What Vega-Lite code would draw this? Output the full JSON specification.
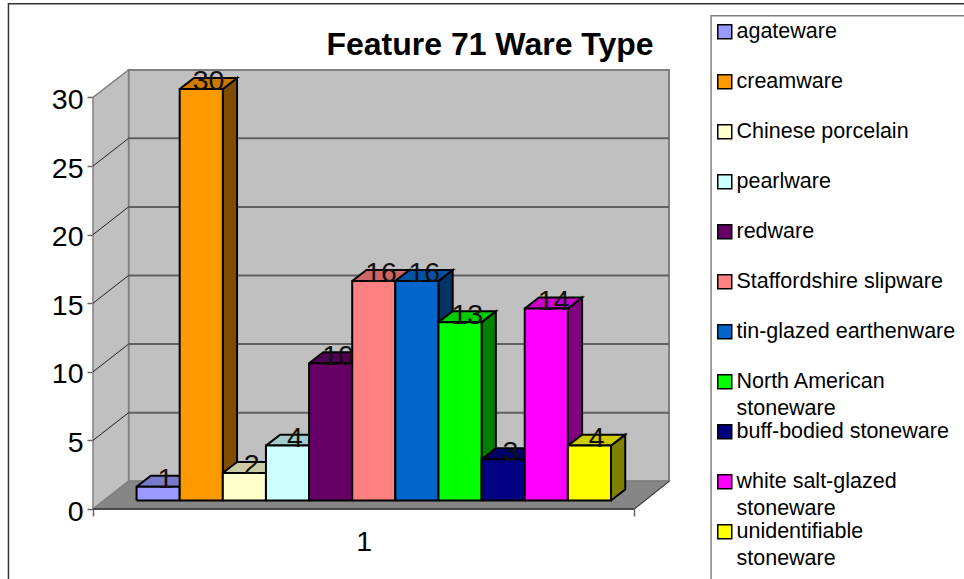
{
"$schema":"https://vega.github.io/schema/vega-lite/v6.json",
"width":576,"height":439,
"autosize":{"type":"none"},
"padding":{"left":93,"top":70,"right":295,"bottom":70},
"background":"white",
"title":{"text":"Feature 71 Ware Type","font":"Liberation Sans","fontSize":32,"fontWeight":"bold","color":"black","anchor":"middle","dx":109,"offset":-59},
"config":{"view":{"stroke":null},"font":"Liberation Sans"},
"datasets":{
"bars":[
{"ware":"agateware","value":1},
{"ware":"creamware","value":30},
{"ware":"Chinese porcelain","value":2},
{"ware":"pearlware","value":4},
{"ware":"redware","value":10},
{"ware":"Staffordshire slipware","value":16},
{"ware":"tin-glazed earthenware","value":16},
{"ware":"North American stoneware","value":13},
{"ware":"buff-bodied stoneware","value":3},
{"ware":"white salt-glazed stoneware","value":14},
{"ware":"unidentifiable stoneware","value":4}
],
"ticks":[{"tick":5},{"tick":10},{"tick":15},{"tick":20},{"tick":25}]
},
"layer":[
{"data":{"values":[{}]},
 "mark":{"type":"rect","filled":false,"stroke":"#333333","strokeWidth":1.5},
 "encoding":{
  "x":{"datum":-2.97,"type":"quantitative","scale":{"domain":[-1.01,12.345],"nice":false,"zero":false},"title":null,
   "axis":{"values":[-1.01,5.265,11.54],"title":null,"grid":false,"domain":false,"tickColor":"#666666","tickWidth":1.5,"tickSize":7,"labelFontSize":28.5,"labelColor":"black","labelFont":"Liberation Sans","labelPadding":11,"labelOverlap":false,"labelFlush":false,"tickOpacity":{"condition":{"test":"datum.value>5 && datum.value<6","value":0},"value":1},"labelExpr":"datum.value>5 && datum.value<6 ? '1' : ''"}},
  "x2":{"datum":20},
  "y":{"datum":36.83,"type":"quantitative","scale":{"domain":[0,32],"nice":false,"zero":false},"title":null,
   "axis":{"values":[0,5,10,15,20,25,30],"title":null,"grid":false,"domain":false,"tickColor":"#666666","tickWidth":1.5,"tickSize":6,"labelFontSize":28.5,"labelColor":"black","labelFont":"Liberation Sans","labelPadding":4,"labelOffset":2,"labelOverlap":false,"labelFlush":false}},
  "y2":{"datum":-6}}},
{"data":{"values":[{}]},
 "mark":{"type":"rect","filled":false,"stroke":"#808080","strokeWidth":1.5},
 "encoding":{"x":{"datum":13.32,"type":"quantitative"},"x2":{"datum":20},"y":{"datum":35.95,"type":"quantitative"},"y2":{"datum":-6}}},
{"data":{"values":[{}]},
 "mark":{"type":"rect","fill":"#c0c0c0","stroke":"#808080","strokeWidth":2},
 "encoding":{"x":{"datum":-0.186,"type":"quantitative"},"x2":{"datum":12.345},"y":{"datum":2.02,"type":"quantitative"},"y2":{"datum":32}}},
{"data":{"values":[{"part":"side"},{"part":"floor"}]},
 "transform":[
  {"calculate":"[0,1,2,3,4]","as":"v"},{"flatten":["v"]},
  {"calculate":"datum.part=='side' ? [-1.01,-0.186,-0.186,-1.01,-1.01][datum.v] : [-1.01,11.54,12.345,-0.186,-1.01][datum.v]","as":"px"},
  {"calculate":"datum.part=='side' ? [0,2.02,32,30,0][datum.v] : [0,0,2.02,2.02,0][datum.v]","as":"py"}],
 "mark":{"type":"line","filled":true,"stroke":"#808080","strokeWidth":1.5},
 "encoding":{"x":{"field":"px","type":"quantitative","title":null},"y":{"field":"py","type":"quantitative","title":null},"order":{"field":"v","type":"quantitative"},
  "fill":{"field":"part","type":"nominal","legend":null}}},
{"data":{"name":"ticks"},
 "transform":[{"calculate":"datum.tick+2.02","as":"backY"}],
 "mark":{"type":"rule","color":"#606060","strokeWidth":2},
 "encoding":{"x":{"datum":-0.186,"type":"quantitative"},"x2":{"datum":12.345},"y":{"field":"backY","type":"quantitative","title":null}}},
{"data":{"name":"ticks"},
 "transform":[{"calculate":"datum.tick+2.02","as":"backY"}],
 "mark":{"type":"rule","color":"#222222","strokeWidth":1},
 "encoding":{"x":{"datum":-1.01,"type":"quantitative"},"x2":{"datum":-0.186},"y":{"field":"tick","type":"quantitative","title":null},"y2":{"field":"backY"}}},
{"data":{"values":[{}]},
 "mark":{"type":"rule","color":"#333333","strokeWidth":1.5},
 "encoding":{"x":{"datum":-1.01,"type":"quantitative"},"x2":{"datum":11.54},"y":{"datum":0,"type":"quantitative"}}},
{"data":{"values":[{}]},
 "mark":{"type":"rule","color":"#333333","strokeWidth":1},
 "encoding":{"x":{"datum":11.54,"type":"quantitative"},"x2":{"datum":12.345},"y":{"datum":0,"type":"quantitative"},"y2":{"datum":2.02}}},
{"data":{"name":"bars"},
 "transform":[
  {"window":[{"op":"row_number","as":"rn"}]},
  {"calculate":"datum.rn-1","as":"i"},
  {"calculate":"['side','top','front']","as":"face"},{"flatten":["face"]},
  {"calculate":"[0,1,2,3,4]","as":"v"},{"flatten":["v"]},
  {"calculate":"datum.ware+'|'+datum.face","as":"faceKey"},
  {"calculate":"datum.value+0.62","as":"t"},
  {"calculate":"datum.face=='front' ? [datum.i,datum.i+1,datum.i+1,datum.i,datum.i][datum.v] : datum.face=='side' ? [datum.i+1,datum.i+1.33,datum.i+1.33,datum.i+1,datum.i+1][datum.v] : [datum.i,datum.i+1,datum.i+1.33,datum.i+0.33,datum.i][datum.v]","as":"px"},
  {"calculate":"datum.face=='front' ? [0.62,0.62,datum.t,datum.t,0.62][datum.v] : datum.face=='side' ? [0.62,1.42,datum.t+0.8,datum.t,0.62][datum.v] : [datum.t,datum.t,datum.t+0.8,datum.t+0.8,datum.t][datum.v]","as":"py"}],
 "mark":{"type":"line","filled":true,"stroke":"black","strokeWidth":2},
 "encoding":{"x":{"field":"px","type":"quantitative","title":null},"y":{"field":"py","type":"quantitative","title":null},"order":{"field":"v","type":"quantitative"},
  "fill":{"field":"faceKey","type":"nominal","legend":null,"scale":{
   "domain":["side","floor","agateware|front","agateware|top","agateware|side","creamware|front","creamware|top","creamware|side","Chinese porcelain|front","Chinese porcelain|top","Chinese porcelain|side","pearlware|front","pearlware|top","pearlware|side","redware|front","redware|top","redware|side","Staffordshire slipware|front","Staffordshire slipware|top","Staffordshire slipware|side","tin-glazed earthenware|front","tin-glazed earthenware|top","tin-glazed earthenware|side","North American stoneware|front","North American stoneware|top","North American stoneware|side","buff-bodied stoneware|front","buff-bodied stoneware|top","buff-bodied stoneware|side","white salt-glazed stoneware|front","white salt-glazed stoneware|top","white salt-glazed stoneware|side","unidentifiable stoneware|front","unidentifiable stoneware|top","unidentifiable stoneware|side"],
   "range":["#c0c0c0","#868686","#9999ff","#7a7acc","#4d4d80","#ff9900","#cc7a00","#804d00","#ffffcc","#cccca3","#808066","#ccffff","#a3cccc","#668080","#660066","#520052","#330033","#ff8080","#cc6666","#804040","#0066cc","#0052a3","#003366","#00ff00","#00cc00","#008000","#000080","#000066","#000040","#ff00ff","#cc00cc","#800080","#ffff00","#cccc00","#808000"]}}}},
{"data":{"name":"bars"},
 "transform":[
  {"window":[{"op":"row_number","as":"rn"}]},
  {"calculate":"datum.rn-0.5+0.17","as":"cx"},
  {"calculate":"datum.value+0.52","as":"t"}],
 "mark":{"type":"text","fontSize":28.5,"font":"Liberation Sans","color":"#111111","align":"center","baseline":"alphabetic"},
 "encoding":{"x":{"field":"cx","type":"quantitative","title":null},"y":{"field":"t","type":"quantitative","title":null},"text":{"field":"value","type":"quantitative"}}},
{"data":{"name":"bars"},
 "transform":[{"window":[{"op":"row_number","as":"rn"}]}],
 "mark":{"type":"point","filled":true,"shape":"square","size":0,"opacity":0},
 "encoding":{"x":{"field":"rn","type":"quantitative","title":null},"y":{"field":"value","type":"quantitative","title":null},
  "color":{"field":"ware","type":"nominal","scale":{
   "domain":["agateware","creamware","Chinese porcelain","pearlware","redware","Staffordshire slipware","tin-glazed earthenware","North American stoneware","buff-bodied stoneware","white salt-glazed stoneware","unidentifiable stoneware"],
   "range":["#9999ff","#ff9900","#ffffcc","#ccffff","#660066","#ff8080","#0066cc","#00ff00","#000080","#ff00ff","#ffff00"]},
   "legend":{"title":null,"orient":"none","legendX":621,"legendY":-49,"padding":0,"columns":1,"gridAlign":"all","rowPadding":0,"symbolType":"square","symbolSize":196,"symbolStrokeColor":"black","symbolStrokeWidth":1.5,"symbolOpacity":1,"labelFont":"Liberation Sans","labelFontSize":21.5,"labelColor":"black","labelLimit":300,"labelOffset":1,"labelBaseline":"top",
    "encoding":{"labels":{"dy":{"value":-11},"lineHeight":{"value":27}}},
    "labelExpr":"datum.label=='North American stoneware' ? ['North American','stoneware'] : datum.label=='white salt-glazed stoneware' ? ['white salt-glazed','stoneware'] : datum.label=='unidentifiable stoneware' ? ['unidentifiable','stoneware'] : datum.label"}}}}
]
}
